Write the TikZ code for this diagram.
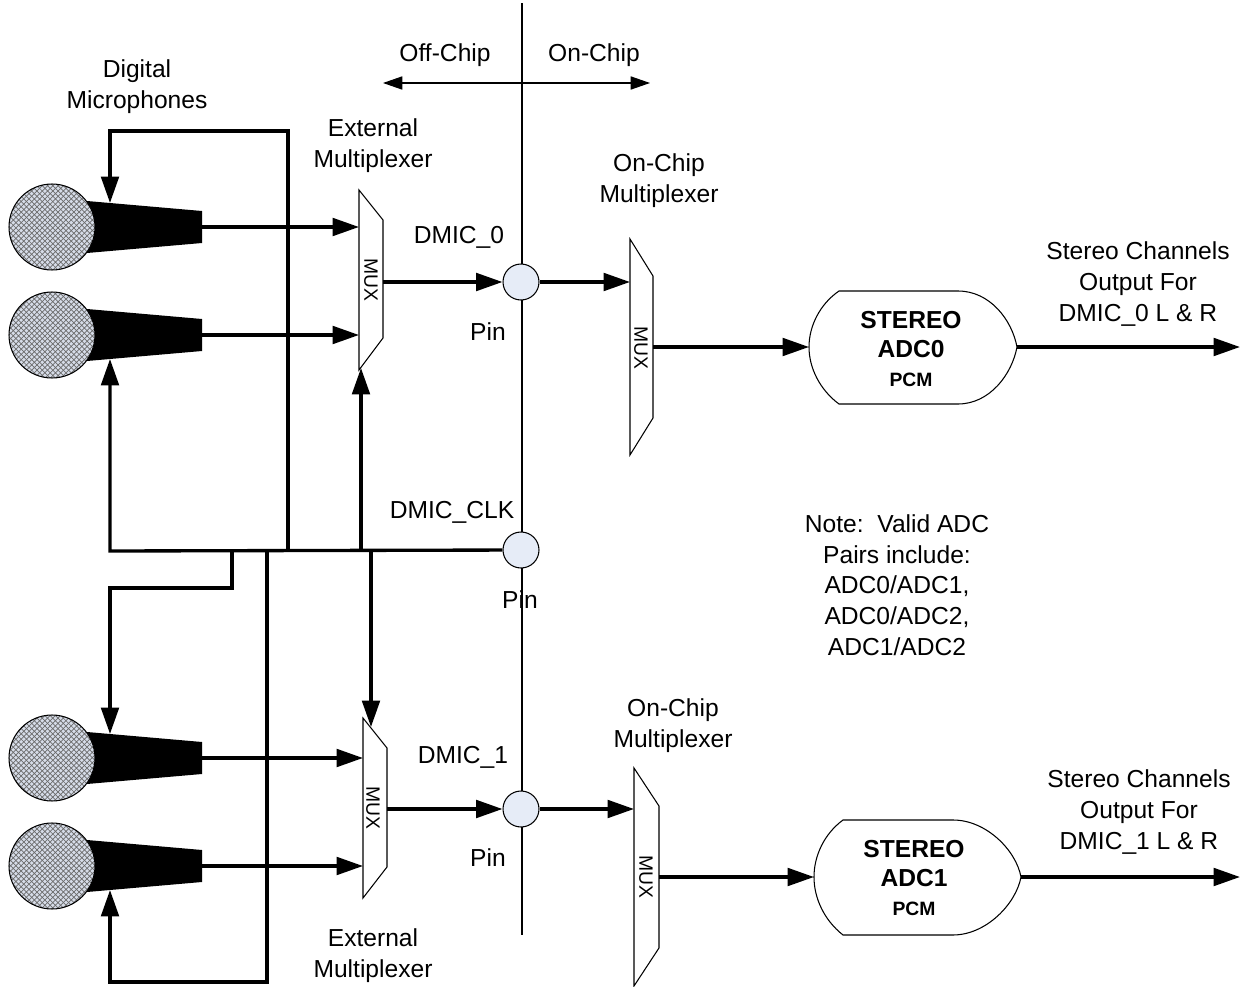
\documentclass[tikz,border=0pt]{standalone}
\usepackage{fontspec}
\setmainfont{Liberation Sans}
\usetikzlibrary{arrows.meta,patterns,calc,positioning}
\definecolor{pinfill}{RGB}{230,236,247}
\definecolor{micfill}{RGB}{214,220,232}

\begin{document}
\begin{tikzpicture}[x=0.02cm,y=-0.02cm,
    >={Triangle[length=15pt,width=10pt]},
    wire/.style={line width=1.9pt},
    thinline/.style={line width=0.6pt},
    muxbox/.style={line width=0.6pt, fill=white},
    muxtext/.style={rotate=-90, font=\fontsize{11}{13}\selectfont},
    txt/.style={align=center, font=\fontsize{14}{17.5}\selectfont},
    adctext/.style={align=center, font=\bfseries\fontsize{14}{16.5}\selectfont},
    chippin/.style={circle, draw, line width=0.6pt, fill=pinfill,
        minimum size=0.72cm, inner sep=0pt},
    micball/.style={circle, draw, line width=0.6pt, minimum size=1.72cm,
        inner sep=0pt, preaction={fill=micfill},
        pattern=crosshatch, pattern color=gray!85!black}
]
    \useasboundingbox (0,0) rectangle (1249,987);

    % chip boundary
    \coordinate (bndtop) at (522,3);
    \coordinate (bndbot) at (522,935);
    \draw[thinline] (bndtop) -- (bndbot);
    \coordinate (offend) at (383,83);
    \coordinate (onend) at (650,83);
    \draw[thinline, <->, >={Triangle[length=11pt,width=7.5pt]}] (offend) -- (onend);
    \node[txt] (offchip) at (445,55) {Off-Chip};
    \node[txt] (onchip) at (594,55) {On-Chip};

    % Microphones
    \node[txt] (miclabel) at (137,87) {Digital\\Microphones};
    \foreach \i/\y in {1/227,2/335,3/758,4/866}{
        \fill (87,{\y-26}) -- (202,{\y-16}) -- (202,{\y+16}) -- (87,{\y+26}) -- cycle;
        \node[micball] (mic\i) at (52,\y) {};
        \coordinate (micout\i) at (202,\y);
        \coordinate (mictop\i) at (110,{\y-24});
        \coordinate (micbot\i) at (110,{\y+24});
    }

    % External Multiplexer
    \draw[muxbox] (359,190) -- (383,220) -- (383,338) -- (359,370) -- cycle;
    \node[muxtext] (muxA) at (371,280) {MUX};
    \coordinate (muxAw) at (359,280);
    \coordinate (muxAe) at (383,282);
    \coordinate (muxAsel) at (361,368);
    \node[txt] (extA) at (373,146) {External\\Multiplexer};

    \draw[muxbox] (363,718) -- (387,748) -- (387,867) -- (363,898) -- cycle;
    \node[muxtext] (muxB) at (373,808) {MUX};
    \coordinate (muxBw) at (363,808);
    \coordinate (muxBe) at (387,809);
    \coordinate (muxBsel) at (371,727);
    \node[txt] (extB) at (373,956) {External\\Multiplexer};

    % On-Chip Multiplexer
    \draw[muxbox] (630,239) -- (653,276) -- (653,418) -- (630,455) -- cycle;
    \node[muxtext] (muxC) at (641,348) {MUX};
    \coordinate (muxCw) at (630,282);
    \coordinate (muxCe) at (653,347);
    \node[txt] (onA) at (659,181) {On-Chip\\Multiplexer};

    \draw[muxbox] (634,768) -- (659,806) -- (659,948) -- (634,986) -- cycle;
    \node[muxtext] (muxD) at (646,877) {MUX};
    \coordinate (muxDw) at (634,809);
    \coordinate (muxDe) at (659,877);
    \node[txt] (onB) at (673,726) {On-Chip\\Multiplexer};

    % Pins
    \node[chippin] (pin0) at (521,282) {};
    \node[chippin] (pinclk) at (521,550) {};
    \node[chippin] (pin1) at (521,809) {};
    \node[txt] (dmic0) at (459,237) {DMIC\_0};
    \node[txt] (dmicclk) at (452,512) {DMIC\_CLK};
    \node[txt] (dmic1) at (463,757) {DMIC\_1};
    \node[txt] (pinlab0) at (488,332) {Pin};
    \node[txt] (pinlabclk) at (520,600) {Pin};
    \node[txt] (pinlab1) at (488,858) {Pin};

    % ADC
    \draw[thinline, fill=white] (839,291) -- (958,291)
        .. controls (990,291) and (1012,320) .. (1017,347)
        .. controls (1012,374) and (990,404) .. (958,404) -- (839,404)
        .. controls (820,390) and (809,368) .. (809,347)
        .. controls (809,326) and (820,304) .. cycle;
    \node[adctext] (adc0) at (911,349) {STEREO\\ADC0\\{\fontsize{11}{13}\selectfont PCM}};
    \coordinate (adc0w) at (809,347);
    \coordinate (adc0e) at (1017,347);

    \draw[thinline, fill=white] (843,820) -- (953,820)
        .. controls (986,820) and (1016,850) .. (1021,877)
        .. controls (1016,904) and (986,935) .. (953,935) -- (843,935)
        .. controls (824,920) and (814,898) .. (814,877)
        .. controls (814,856) and (824,834) .. cycle;
    \node[adctext] (adc1) at (914,878) {STEREO\\ADC1\\{\fontsize{11}{13}\selectfont PCM}};
    \coordinate (adc1w) at (814,877);
    \coordinate (adc1e) at (1021,877);

    % Outputs
    \coordinate (out0) at (1240,347);
    \coordinate (out1) at (1240,877);
    \node[txt] (outlab0) at (1138,284) {Stereo Channels\\Output For\\DMIC\_0 L \& R};
    \node[txt] (outlab1) at (1139,812) {Stereo Channels\\Output For\\DMIC\_1 L \& R};
    \node[txt] (note) at (897,585) {Note:\ \ Valid ADC\\Pairs include:\\ADC0/ADC1,\\ADC0/ADC2,\\ADC1/ADC2};

    % data paths
    \draw[wire,->] (micout1) -- (micout1 -| muxAw);
    \draw[wire,->] (micout2) -- (micout2 -| muxAw);
    \draw[wire,->] (micout3) -- (micout3 -| muxBw);
    \draw[wire,->] (micout4) -- (micout4 -| muxBw);
    \draw[wire,->] (muxAe) -- (pin0);
    \draw[wire,->] (muxBe) -- (pin1);
    \draw[wire,->] (pin0) -- (muxCw);
    \draw[wire,->] (pin1) -- (muxDw);
    \draw[wire,->] (muxCe) -- (adc0w);
    \draw[wire,->] (muxDe) -- (adc1w);
    \draw[wire,->] (adc0e) -- (out0);
    \draw[wire,->] (adc1e) -- (out1);

    % clock
    \coordinate (busL) at (110,551);
    \coordinate (tapB) at (232,551);
    \coordinate (tapC) at (267,551);
    \coordinate (tapD) at (288,551);
    \coordinate (tapE) at (361,551);
    \coordinate (tapF) at (371,551);
    \draw[wire,->] (pinclk) -- (busL) -- (micbot2);
    \draw[wire,->] (tapB) -- ++(0,37) -| (mictop3);
    \draw[wire,->] (tapC) -- ++(0,431) -| (micbot4);
    \draw[wire,->] (tapD) -- ++(0,-420) -| (mictop1);
    \draw[wire,->] (tapE) -- (muxAsel);
    \draw[wire,->] (tapF) -- (muxBsel);

\end{tikzpicture}
\end{document}
